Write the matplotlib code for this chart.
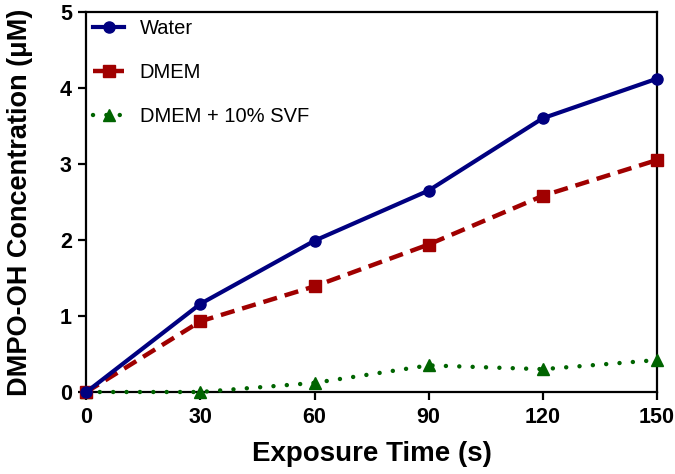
import matplotlib
matplotlib.use("Agg")
import matplotlib.pyplot as plt

plt.rcParams['font.family'] = ['Liberation Sans', 'DejaVu Sans']

time_s = [0, 30, 60, 90, 120, 150]
water = [0.0, 1.16, 1.99, 2.65, 3.60, 4.12]
dmem = [0.0, 0.93, 1.39, 1.94, 2.58, 3.05]
dmem_svf = [0.0, 0.0, 0.12, 0.35, 0.30, 0.42]
x_ticks = [0, 30, 60, 90, 120, 150]
y_ticks = [0, 1, 2, 3, 4, 5]

fig = plt.figure(figsize=(6.75, 4.74), dpi=100)
ax = fig.add_axes([0.128, 0.173, 0.845, 0.802])

ax.plot(time_s, water, '-', color='#000080', lw=3, marker='o', ms=8,
        label='Water', clip_on=False, zorder=5)
ax.plot(time_s, dmem, '--', color='#A00000', lw=3.2, marker='s', ms=8,
        dashes=(3.2, 1.8), label='DMEM', clip_on=False, zorder=4)
ax.plot(time_s, dmem_svf, color='#006400', lw=3.2, marker='^', ms=8,
        linestyle=(0, (0.01, 3.0)), dash_capstyle='round',
        label='DMEM + 10% SVF', clip_on=False, zorder=3)

ax.set_xlim(0, 150)
ax.set_ylim(0, 5)
ax.set_xticks(x_ticks)
ax.set_yticks(y_ticks)
for s in ax.spines.values():
    s.set_linewidth(1.6)
ax.tick_params(direction='out', width=1.6, length=5.5, labelsize=15.5, pad=5)
for lab in ax.get_xticklabels() + ax.get_yticklabels():
    lab.set_fontweight('bold')

ax.set_xlabel('Exposure Time (s)', fontsize=20, fontweight='bold', labelpad=10)
ax.set_ylabel('DMPO-OH Concentration (μM)', fontsize=19.5, fontweight='bold', labelpad=19)

leg = ax.legend(loc='upper left', frameon=False, fontsize=14.5, handlelength=1.5,
                labelspacing=1.25, borderaxespad=0.1, borderpad=0.25,
                handletextpad=0.8)

fig.savefig('out.png', dpi=100)
